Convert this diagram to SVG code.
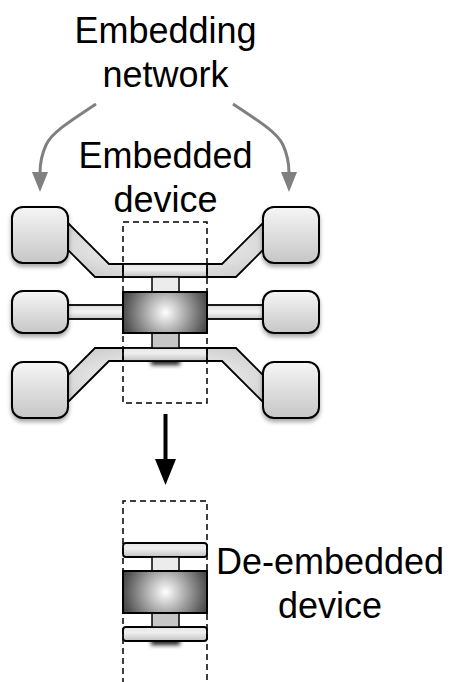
<svg xmlns="http://www.w3.org/2000/svg" width="454" height="682" viewBox="0 0 454 682">
  <defs>
    <linearGradient id="padFill" x1="0" y1="0" x2="0" y2="1">
      <stop offset="0" stop-color="#f6f6f6"/>
      <stop offset="1" stop-color="#c6c6c6"/>
    </linearGradient>
    <linearGradient id="barFill" x1="0" y1="0" x2="0" y2="1">
      <stop offset="0" stop-color="#e6e6e6"/>
      <stop offset="0.4" stop-color="#efefef"/>
      <stop offset="1" stop-color="#c2c2c2"/>
    </linearGradient>
    <linearGradient id="stripFill" x1="0" y1="0" x2="0" y2="1">
      <stop offset="0" stop-color="#dcdcdc"/>
      <stop offset="0.5" stop-color="#f4f4f4"/>
      <stop offset="1" stop-color="#c8c8c8"/>
    </linearGradient>
    <radialGradient id="diagFill" cx="0.5" cy="0.5" r="0.6">
      <stop offset="0" stop-color="#ffffff"/>
      <stop offset="1" stop-color="#cdcdcd"/>
    </radialGradient>
    <radialGradient id="devFillA" gradientUnits="userSpaceOnUse" cx="165.5" cy="312.5" r="52">
      <stop offset="0" stop-color="#ffffff"/>
      <stop offset="0.3" stop-color="#bdbdbd"/>
      <stop offset="0.75" stop-color="#5a5a5a"/>
      <stop offset="1" stop-color="#2a2a2a"/>
    </radialGradient>
    <radialGradient id="devFillB" href="#devFillA" cx="165.5" cy="592" r="52"/>
    <filter id="shadow" x="-20%" y="-20%" width="140%" height="150%">
      <feDropShadow dx="0" dy="3" stdDeviation="2" flood-color="#000" flood-opacity="0.35"/>
    </filter>
    <filter id="blur" x="-50%" y="-150%" width="200%" height="400%">
      <feGaussianBlur stdDeviation="2"/>
    </filter>
  </defs>
  <style>
    .label { font-family: "Liberation Sans", Arial, sans-serif; font-size: 36px; fill: #000; text-anchor: middle; }
    .pad { fill: url(#padFill); stroke: #000; stroke-width: 2; filter: url(#shadow); }
    .strip { fill: url(#diagFill); stroke: #000; stroke-width: 1.8; stroke-linejoin: miter; }
    .hstrip { fill: url(#stripFill); stroke: #000; stroke-width: 1.8; }
    .bar { fill: url(#barFill); stroke: #000; stroke-width: 1.8; }
    .dev { stroke: #000; stroke-width: 2; }
    .link-top { fill: #ececec; stroke: #000; stroke-width: 1.5; }
    .link-bot { fill: #c6c6c6; stroke: #000; stroke-width: 1.5; }
    .dash { fill: none; stroke: #000; stroke-width: 1.5; stroke-dasharray: 6 4; }
    .grey { fill: none; stroke: #808080; stroke-width: 3; }
    .smudge { fill: #1a1a1a; filter: url(#blur); }
  </style>

  <!-- labels -->
  <g id="label-network">
    <text class="label" x="165.5" y="43">Embedding</text>
    <text class="label" x="165.5" y="87">network</text>
  </g>
  <g id="label-embedded">
    <text class="label" x="165.5" y="168">Embedded</text>
    <text class="label" x="165.5" y="212">device</text>
  </g>
  <g id="label-deembedded">
    <text class="label" x="330" y="574">De-embedded</text>
    <text class="label" x="330" y="618">device</text>
  </g>

  <!-- connectors -->
  <g id="connectors">
    <path class="grey" d="M96,104 C72,120 52,132 46,145 C41,156 40,165 40,173"/>
    <path d="M32,172 L48,172 L40,192 Z" fill="#808080"/>
    <path class="grey" d="M233,104 C257,120 277,132 283,145 C288,156 289,165 289,173"/>
    <path d="M281,172 L297,172 L289,192 Z" fill="#808080"/>
    <rect x="163.5" y="414" width="4" height="47" fill="#000"/>
    <path d="M155,459 L176,459 L165.5,485 Z" fill="#000"/>
  </g>

  <!-- embedded network: feed strips -->
  <g id="strips">
    <path class="strip" d="M60,215 L109,264 L222,264 L271,215 L271,242 L236,277 L95,277 L60,242 Z"/>
    <path class="strip" d="M60,410 L109,361 L222,361 L271,410 L271,383 L236,348 L95,348 L60,383 Z"/>
    <rect class="hstrip" x="60" y="305" width="211" height="14"/>
  </g>

  <!-- embedding network pads -->
  <g id="pad-left-top"><rect class="pad" x="12" y="207" width="56" height="56" rx="11"/></g>
  <g id="pad-left-mid"><rect class="pad" x="12" y="291" width="56" height="42" rx="11"/></g>
  <g id="pad-left-bot"><rect class="pad" x="12" y="362" width="56" height="56" rx="11"/></g>
  <g id="pad-right-top"><rect class="pad" x="263" y="207" width="56" height="56" rx="11"/></g>
  <g id="pad-right-mid"><rect class="pad" x="263" y="291" width="56" height="42" rx="11"/></g>
  <g id="pad-right-bot"><rect class="pad" x="263" y="362" width="56" height="56" rx="11"/></g>

  <!-- embedded device -->
  <g id="embedded-device">
    <rect class="smudge" x="151" y="359" width="29" height="6"/>
    <rect class="bar" x="123" y="264" width="84" height="13"/>
    <rect class="bar" x="123" y="348" width="84" height="13"/>
    <rect class="link-top" x="152" y="277" width="27" height="15"/>
    <rect class="link-bot" x="152" y="333" width="27" height="15"/>
    <rect class="dev" x="123" y="292" width="84" height="41" fill="url(#devFillA)"/>
    <rect class="dash" x="123" y="222" width="84" height="181"/>
  </g>

  <!-- de-embedded device -->
  <g id="deembedded-device">
    <rect class="smudge" x="151" y="639" width="29" height="6"/>
    <rect class="bar" x="123" y="543" width="84" height="14" rx="3"/>
    <rect class="bar" x="123" y="627" width="84" height="14" rx="3"/>
    <rect class="link-top" x="152" y="557" width="27" height="14"/>
    <rect class="link-bot" x="152" y="613" width="27" height="14"/>
    <rect class="dev" x="123" y="571" width="84" height="42" fill="url(#devFillB)"/>
    <path class="dash" d="M123,684 L123,501 L207,501 L207,684"/>
  </g>
</svg>
